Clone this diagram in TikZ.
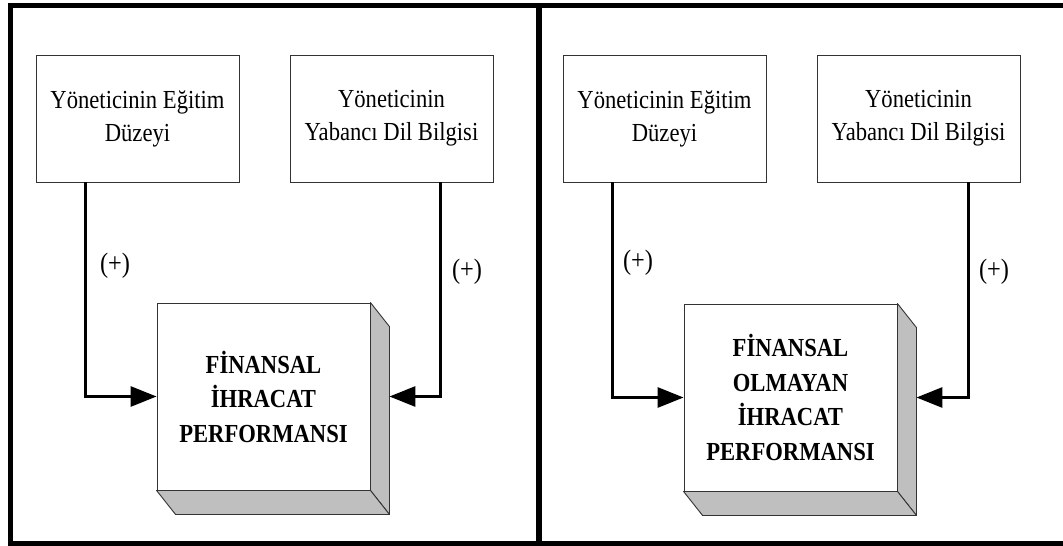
\documentclass[tikz,border=0pt]{standalone}
\usepackage{fontspec}
\setmainfont{Liberation Serif}
\newfontfamily\condserif{Liberation Serif}[FakeStretch=0.87]
\usetikzlibrary{arrows.meta,calc}

\tikzset{
  frame/.style={line width=5.5pt},
  factor/.style={draw=black!80, line width=0.9pt, fill=white, rectangle,
    minimum width=203pt, minimum height=127pt, inner sep=0pt,
    align=center, font=\condserif\fontsize{26}{33}\selectfont},
  result/.style={draw=black!80, line width=0.9pt, fill=white, rectangle,
    minimum width=213pt, minimum height=187pt, inner sep=0pt,
    align=center, font=\condserif\fontsize{26}{34.5}\selectfont\bfseries},
  depth/.style={draw=black!80, line width=0.9pt, fill=black!25, line join=round},
  link/.style={line width=3pt, -{Triangle[length=26pt,width=20pt]}},
  sign/.style={font=\condserif\fontsize{28}{30}\selectfont, inner sep=0pt}
}

% extruded faces on the right and bottom of a result box
\newcommand{\extrude}[1]{%
  \draw[depth] (#1.north east) -- ++(19,24) -- ($(#1.south east)+(19,24)$)
    -- (#1.south east) -- cycle;
  \draw[depth] (#1.south west) -- ++(19,24) -- ($(#1.south east)+(19,24)$)
    -- (#1.south east) -- cycle;
}

\begin{document}
\begin{tikzpicture}[x=1pt,y=-1pt]
\useasboundingbox (0,0) rectangle (1063,546);
\begin{scope}
  \clip (0,0) rectangle (1063,546);
  \draw[frame] (10.5,5.5) rectangle (1080,543.5);
  \draw[frame] (539,5.5) -- (539,543.5);
\end{scope}

% left panel
\node[factor] (la) at (137.5,118.5) {Yöneticinin Eğitim\\Düzeyi};
\node[factor] (lb) at (391.5,118.5) {Yöneticinin\\Yabancı Dil Bilgisi};
\node[result] (lr) at (263.5,396.5) {FİNANSAL\\İHRACAT\\PERFORMANSI};
\extrude{lr}
\coordinate (laout) at ($(la.south west)+(50,0)$);
\coordinate (lbout) at ($(lb.south west)+(151,0)$);
\coordinate (lrin) at ($(lr.east)+(19,0)$);
\draw[link] (laout) |- (lr.west);
\draw[link] (lbout) |- (lrin);
\node[sign] (lsa) at (115,266) {(+)};
\node[sign] (lsb) at (467,272) {(+)};

% right panel
\node[factor] (ra) at (664.5,118.5) {Yöneticinin Eğitim\\Düzeyi};
\node[factor] (rb) at (918.5,118.5) {Yöneticinin\\Yabancı Dil Bilgisi};
\node[result] (rr) at (790.5,397.5) {FİNANSAL\\OLMAYAN\\İHRACAT\\PERFORMANSI};
\extrude{rr}
\coordinate (raout) at ($(ra.south west)+(50,0)$);
\coordinate (rbout) at ($(rb.south west)+(152,0)$);
\coordinate (rrin) at ($(rr.east)+(19,0)$);
\draw[link] (raout) |- (rr.west);
\draw[link] (rbout) |- (rrin);
\node[sign] (rsa) at (638,263) {(+)};
\node[sign] (rsb) at (994,272) {(+)};
\end{tikzpicture}
\end{document}
